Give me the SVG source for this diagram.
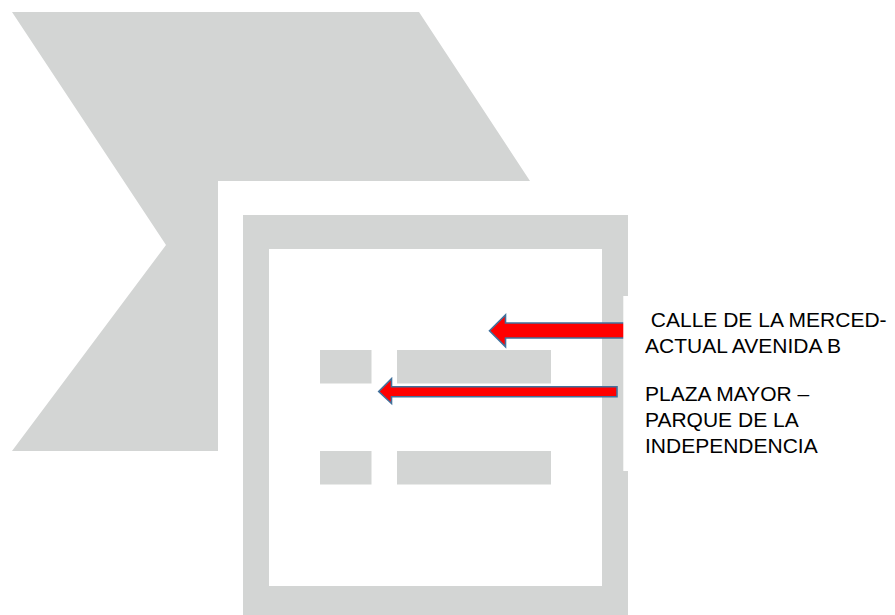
<svg xmlns="http://www.w3.org/2000/svg" width="895" height="615" viewBox="0 0 895 615">
<style>
.g{fill:#d3d5d4}
.w{fill:#ffffff}
.arr{fill:#ff0000;stroke:#41719c;stroke-width:1.6;stroke-linejoin:miter}
.t{font-family:"Liberation Sans",Arial,sans-serif;font-size:21px;fill:#000000}
</style>
<rect x="0" y="0" width="895" height="615" fill="#ffffff"/>
<g id="chevron">
<polygon class="g" points="12,12 419,12 530,181 218,181 218,451 12,451 166,245"/>
</g>
<g id="frame">
<path class="g" fill-rule="evenodd" d="M243,215 H628 V615 H243 Z M269,249 V586 H602 V249 Z"/>
<rect class="g" x="320" y="350" width="51.5" height="33.5"/>
<rect class="g" x="397" y="350" width="154" height="33.5"/>
<rect class="g" x="320" y="451" width="51.5" height="33.5"/>
<rect class="g" x="397" y="451" width="154" height="33.5"/>
</g>
<g id="connectors">
<polygon class="arr" points="489.5,330.7 505.5,315 505.5,323 640,323 640,338 505.5,338 505.5,346.7"/>
<polygon class="arr" points="378.7,391.5 391.5,378.7 391.5,386.8 617,386.8 617,396.7 391.5,396.7 391.5,403.5"/>
</g>
<g id="labels">
<rect class="w" x="623.3" y="296" width="271.7" height="175"/>
<text class="t" x="645" y="327" xml:space="preserve"> CALLE DE LA MERCED-</text>
<text class="t" x="645" y="353">ACTUAL AVENIDA B</text>
<text class="t" x="645" y="401">PLAZA MAYOR –</text>
<text class="t" x="645" y="427">PARQUE DE LA</text>
<text class="t" x="645" y="453">INDEPENDENCIA</text>
</g>
</svg>
